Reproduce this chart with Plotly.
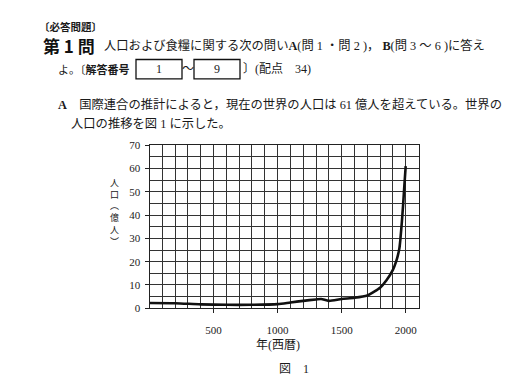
import plotly.graph_objects as go

# ---- data ----
years = [0, 200, 400, 600, 800, 1000, 1100, 1200, 1300, 1340, 1400, 1500,
         1600, 1700, 1750, 1800, 1850, 1900, 1925, 1950, 1960, 1970, 1980,
         1990, 2000]
population = [2.3, 2.2, 1.7, 1.5, 1.5, 1.8, 2.5, 3.2, 3.8, 4.0, 3.2, 4.0,
              4.5, 5.5, 7.0, 8.8, 12.0, 16.5, 20.0, 25.5, 30.5, 37.0, 44.5,
              53.0, 61.0]
x_tickvals = [500, 1000, 1500, 2000]
x_ticktext = ["500", "1000", "1500", "2000"]
y_tickvals = [0, 10, 20, 30, 40, 50, 60, 70]
y_title_chars = ["人", "口", "︵", "億", "人", "︶"]

W, H = 520, 376
CJK = "Noto Sans CJK JP"
SERIF_CJK = "Liberation Serif, Noto Sans CJK JP"


def px(x):
    return x / W


def py(y):
    return 1 - y / H


fig = go.Figure()
fig.add_trace(go.Scatter(
    x=years, y=population, mode="lines",
    line=dict(color="#111111", width=2.6, shape="spline", smoothing=0.7),
    hoverinfo="skip", showlegend=False,
))

GRID = "#333333"
fig.update_layout(
    width=W, height=H, autosize=False,
    margin=dict(l=0, r=0, t=0, b=0),
    paper_bgcolor="white", plot_bgcolor="white",
    showlegend=False,
    xaxis=dict(
        domain=[px(141.5), px(410.5)],
        range=[0, 2100],
        tickmode="array", tickvals=x_tickvals, ticktext=x_ticktext,
        ticks="outside", ticklen=4, tickcolor="#222", tickwidth=1,
        showgrid=True, gridcolor=GRID, gridwidth=1,
        minor=dict(dtick=100, tick0=0, showgrid=True, gridcolor=GRID,
                   gridwidth=1, ticks=""),
        showline=True, linecolor="#222", linewidth=1, mirror=True,
        zeroline=False,
        tickfont=dict(family=SERIF_CJK, size=11, color="#222"),
        ticklabelstandoff=8,
    ),
    yaxis=dict(
        domain=[py(304), py(135.5)],
        range=[0, 70],
        tickmode="array", tickvals=y_tickvals,
        ticks="outside", ticklen=4, tickcolor="#222", tickwidth=1,
        showgrid=True, gridcolor=GRID, gridwidth=1,
        minor=dict(dtick=5, tick0=0, showgrid=True, gridcolor=GRID,
                   gridwidth=1, ticks=""),
        showline=True, linecolor="#222", linewidth=1, mirror=True,
        zeroline=False,
        tickfont=dict(family=SERIF_CJK, size=11, color="#222"),
        ticklabelstandoff=2,
    ),
)

ann = []


def text(x, y, s, size, xanchor="left", family=SERIF_CJK, color="#1a1a1a"):
    ann.append(dict(xref="paper", yref="paper", x=px(x), y=py(y), text=s,
                    showarrow=False, xanchor=xanchor, yanchor="middle",
                    font=dict(family=family, size=size, color=color)))


# header text
text(29, 13, "<b>〔必答問題〕</b>", 10.5, family=CJK)
text(33, 33, "<b>第 1 問</b>", 17, family=CJK, color="#111")
text(94, 33, "人口および食糧に関する次の問い<b>A</b>(問 1 ・問 2 )， "
     "<b>B</b>(問 3 ～ 6 )に答え", 12.3)
text(48, 57, "よ。〔<b>解答番号</b>", 11)
text(151, 57, "1", 12, xanchor="center")
text(180, 57, "～", 12, xanchor="center")
text(209, 57, "9", 12, xanchor="center")
text(233, 57, "〕(配点　34)", 12)
text(48, 93, "<b>A</b>　国際連合の推計によると，現在の世界の人口は 61 億人を超えている。世界の", 12.3)
text(61, 113, "人口の推移を図 1 に示した。", 12.3)

# y-axis label (vertical, one text)
text(106, 205, "<br>".join(y_title_chars), 9, xanchor="center", family=CJK)

# x-axis title and figure caption
text(270, 342, "年(西暦)", 12, xanchor="center")
text(286, 367, "図　1", 12, xanchor="center")

fig.update_layout(annotations=ann)

# answer boxes
for x0, x1 in [(128, 174), (186, 232)]:
    fig.add_shape(type="rect", xref="paper", yref="paper",
                  x0=px(x0), x1=px(x1), y0=py(67), y1=py(47),
                  line=dict(color="#111", width=1.3))

fig.write_html("out.html")
